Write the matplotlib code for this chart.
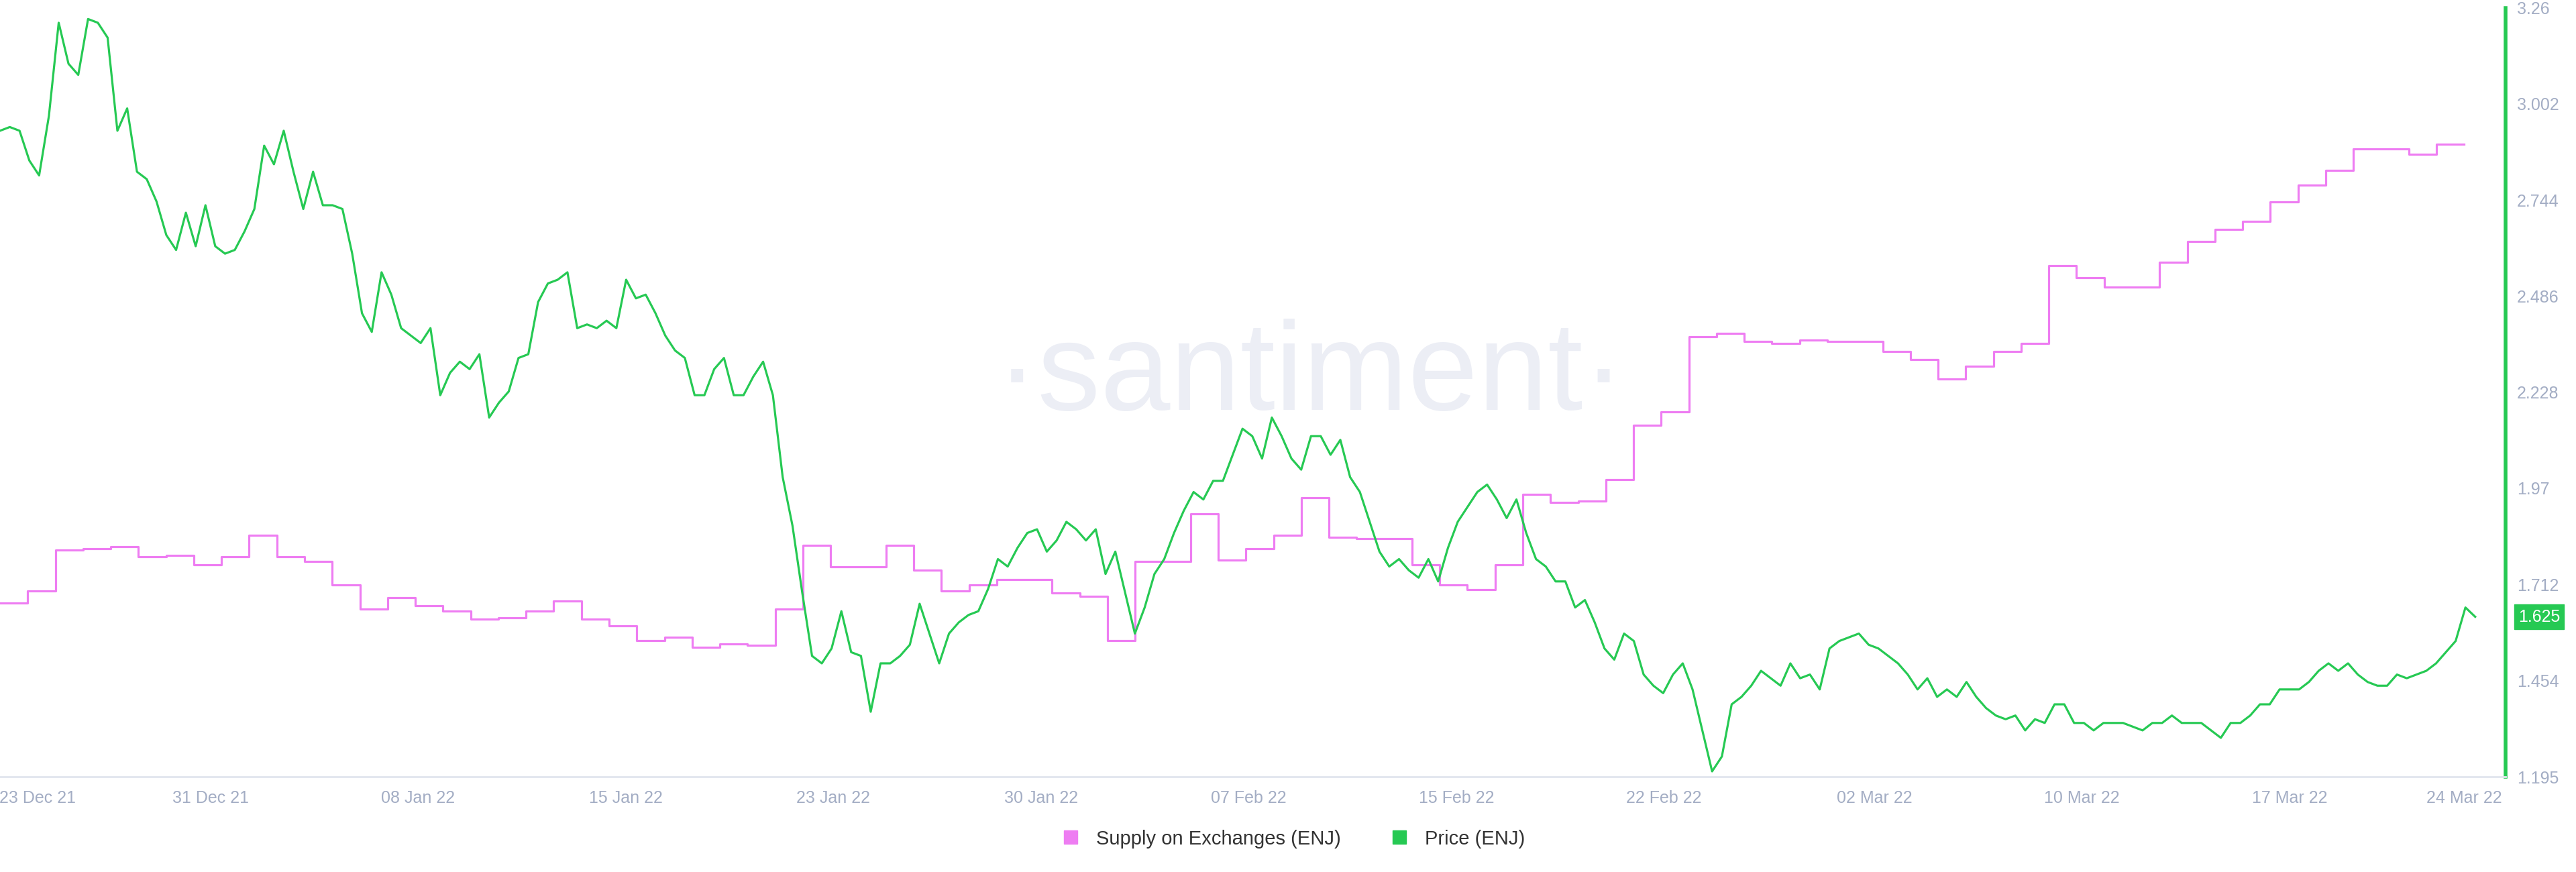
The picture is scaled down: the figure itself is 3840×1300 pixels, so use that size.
import numpy as np
import matplotlib
matplotlib.use("Agg")
import matplotlib.pyplot as plt
from matplotlib.lines import Line2D

price = [2.93,2.94,2.93,2.85,2.81,2.97,3.22,3.11,3.08,3.23,3.22,3.18,2.93,2.99,2.82,2.80,2.74,2.65,2.61,2.71,
 2.62,2.73,2.62,2.60,2.61,2.66,2.72,2.89,2.84,2.93,2.82,2.72,2.82,2.73,2.73,2.72,2.60,2.44,2.39,2.55,
 2.49,2.40,2.38,2.36,2.40,2.22,2.28,2.31,2.29,2.33,2.16,2.20,2.23,2.32,2.33,2.47,2.52,2.53,2.55,2.40,
 2.41,2.40,2.42,2.40,2.53,2.48,2.49,2.44,2.38,2.34,2.32,2.22,2.22,2.29,2.32,2.22,2.22,2.27,2.31,2.22,
 2.00,1.87,1.69,1.52,1.50,1.54,1.64,1.53,1.52,1.37,1.50,1.50,1.52,1.55,1.66,1.58,1.50,1.58,1.61,1.63,
 1.64,1.70,1.78,1.76,1.81,1.85,1.86,1.80,1.83,1.88,1.86,1.83,1.86,1.74,1.80,1.69,1.58,1.65,1.74,1.78,
 1.85,1.91,1.96,1.94,1.99,1.99,2.06,2.13,2.11,2.05,2.16,2.11,2.05,2.02,2.11,2.11,2.06,2.10,2.00,1.96,
 1.88,1.80,1.76,1.78,1.75,1.73,1.78,1.72,1.81,1.88,1.92,1.96,1.98,1.94,1.89,1.94,1.85,1.78,1.76,1.72,
 1.72,1.65,1.67,1.61,1.54,1.51,1.58,1.56,1.47,1.44,1.42,1.47,1.50,1.43,1.32,1.21,1.25,1.39,1.41,1.44,
 1.48,1.46,1.44,1.50,1.46,1.47,1.43,1.54,1.56,1.57,1.58,1.55,1.54,1.52,1.50,1.47,1.43,1.46,1.41,1.43,
 1.41,1.45,1.41,1.38,1.36,1.35,1.36,1.32,1.35,1.34,1.39,1.39,1.34,1.34,1.32,1.34,1.34,1.34,1.33,1.32,
 1.34,1.34,1.36,1.34,1.34,1.34,1.32,1.30,1.34,1.34,1.36,1.39,1.39,1.43,1.43,1.43,1.45,1.48,1.50,1.48,
 1.50,1.47,1.45,1.44,1.44,1.47,1.46,1.47,1.48,1.50,1.53,1.56,1.65,1.625]

supply = [63.3,64.0,66.5,66.6,66.7,66.1,66.2,65.6,66.1,67.4, 66.1,65.8,64.4,62.9,63.6,63.1,62.8,62.3,62.4,62.8,
 63.4,62.3,61.9,61.0,61.2,60.6,60.8,60.7,62.9,66.8, 65.5,65.5,66.8,65.3,64.0,64.4,64.7,64.7,63.9,63.7,
 61.0,65.8,65.8,68.7,65.9,66.6,67.4,69.7,67.3,67.2, 67.2,65.6,64.4,64.1,65.6,69.9,69.4,69.5,70.8,74.1,
 74.9,79.5,79.7,79.2,79.1,79.3,79.2,79.2,78.6,78.1, 76.9,77.7,78.6,79.1,83.8,83.1,82.5,82.5,84.0,85.3,
 86.0,86.5,87.7,88.7,89.6,90.9,90.9,90.6,91.2]

tick_labels = ["23 Dec 21","31 Dec 21","08 Jan 22","15 Jan 22","23 Jan 22","30 Jan 22","07 Feb 22",
               "15 Feb 22","22 Feb 22","02 Mar 22","10 Mar 22","17 Mar 22","24 Mar 22"]
tick_days = [1.35,7.6,15.1,22.6,30.1,37.6,45.1,52.6,60.1,67.7,75.2,82.7,89.0]
price_ticks = [1.195,1.454,1.712,1.97,2.228,2.486,2.744,3.002,3.26]

GREEN = "#26c953"
PINK = "#ee7df2"
GREY = "#a3adc4"
FONT = ["Liberation Sans", "DejaVu Sans"]

fig = plt.figure(figsize=(38.4, 13), dpi=100)
ax = fig.add_axes([0.0, 0.109, 0.9727, 0.882])
ax2 = ax.twinx()

sd = np.arange(len(supply) + 1)
ax.step(sd, supply + [supply[-1]], where="post", color=PINK, lw=2.3)
ax.set_ylim(52.7, 99.5)
ax.set_yticks([])

pdays = np.linspace(0, 89.4, len(price))
ax2.plot(pdays, price, color=GREEN, lw=2.3)
ax2.set_ylim(1.195, 3.26)
ax2.set_yticks(price_ticks)
ax2.set_yticklabels([str(t) for t in price_ticks], family=FONT)
ax2.tick_params(axis="y", length=0, labelsize=18, labelcolor=GREY, pad=12)
ax.set_xlim(0, 90.5)
ax.set_xticks(tick_days)
ax.set_xticklabels(tick_labels, family=FONT)
ax.tick_params(axis="x", length=0, labelsize=18, labelcolor=GREY, pad=14)

for a in (ax, ax2):
    for s in ("top", "left"):
        a.spines[s].set_visible(False)
    a.spines["bottom"].set_color("#e3e7ef")
    a.spines["bottom"].set_linewidth(2)
ax.spines["right"].set_visible(False)
ax2.spines["right"].set_color(GREEN)
ax2.spines["right"].set_linewidth(4)

ax2.text(1.005, price[-1], f"{price[-1]:.3f}", transform=ax2.get_yaxis_transform(),
         ha="left", va="center", fontsize=18, color="white", family=FONT,
         bbox=dict(boxstyle="square,pad=0.25", fc=GREEN, ec=GREEN))

ax.text(0.523, 0.52, "·santiment·", transform=ax.transAxes, ha="center", va="center",
        fontsize=135, color="#eceef5", zorder=0, family=FONT)

handles = [Line2D([], [], marker="s", ls="", color=PINK, markersize=15),
           Line2D([], [], marker="s", ls="", color=GREEN, markersize=15)]
fig.legend(handles, ["Supply on Exchanges (ENJ)", "Price (ENJ)"], loc="center",
           bbox_to_anchor=(0.5, 0.038), ncol=2, frameon=False, fontsize=20,
           handletextpad=0.3, columnspacing=2, labelcolor="#333333", prop={"family": FONT, "size": 21})

fig.savefig("out.png", dpi=100, facecolor="white")
